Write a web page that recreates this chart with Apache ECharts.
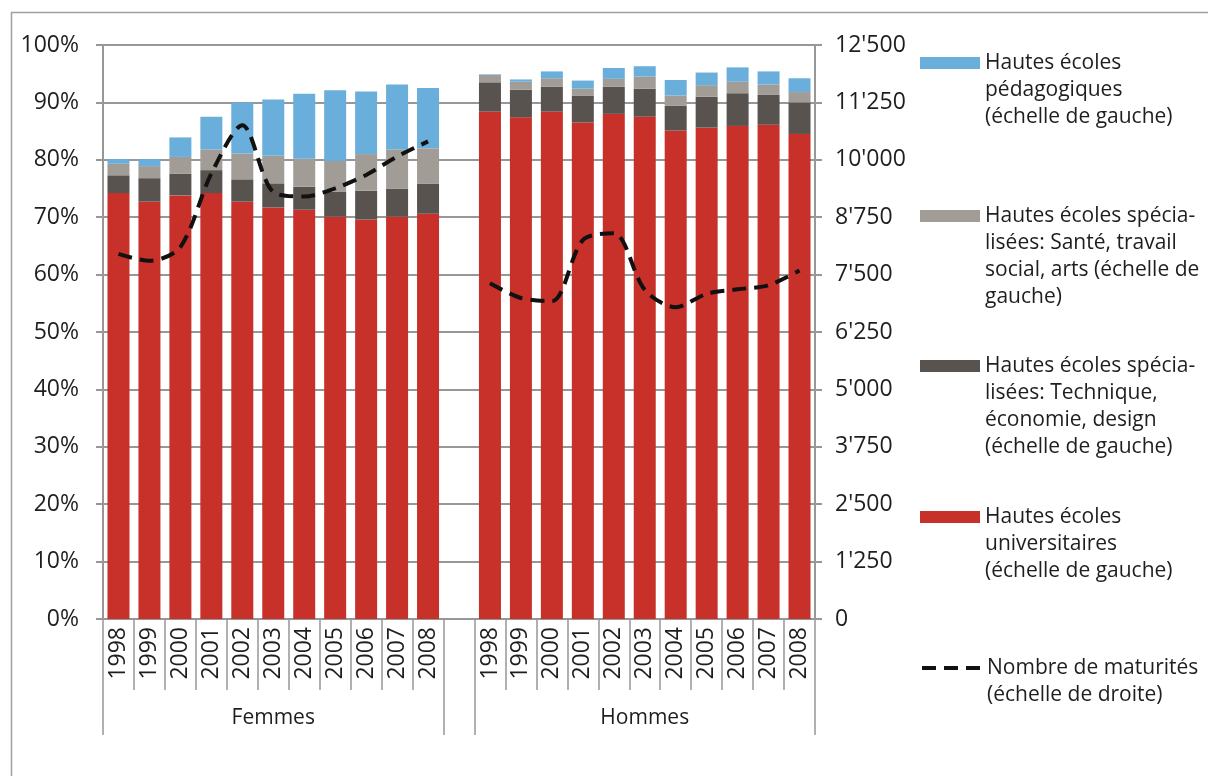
<!DOCTYPE html>
<html><head><meta charset="utf-8">
<script src="https://cdn.jsdelivr.net/npm/echarts@6/dist/echarts.min.js"></script>
<style>html,body{margin:0;padding:0;background:#fff}#c{width:1208px;height:776px}</style>
</head><body><div id="c"></div>
<script>
const years = ['1998','1999','2000','2001','2002','2003','2004','2005','2006','2007','2008'];
const groups = ['Femmes', 'Hommes'];

// Femmes (%)
const univF  = [74.2, 72.7, 73.8, 74.2, 72.7, 71.7, 71.3, 70.1, 69.6, 70.1, 70.6];
const techF  = [3.1, 4.1, 3.8, 4.0, 3.9, 4.2, 4.0, 4.3, 5.0, 4.9, 5.2];
const santeF = [2.0, 2.1, 2.9, 3.6, 4.5, 4.8, 4.9, 5.4, 6.4, 6.8, 6.2];
const pedaF  = [0.8, 1.2, 3.4, 5.7, 8.9, 9.8, 11.3, 12.3, 10.9, 11.3, 10.5];
// Hommes (%)
const univH  = [88.4, 87.4, 88.4, 86.5, 88.0, 87.5, 85.1, 85.6, 85.9, 86.1, 84.5];
const techH  = [5.1, 4.8, 4.3, 4.7, 4.7, 4.9, 4.3, 5.4, 5.7, 5.2, 5.5];
const santeH = [1.3, 1.4, 1.5, 1.2, 1.4, 2.1, 1.8, 2.0, 2.0, 1.8, 1.8];
const pedaH  = [0.1, 0.4, 1.2, 1.4, 1.9, 1.8, 2.7, 2.2, 2.5, 2.3, 2.4];
// Nombre de maturités
const matF = [7950, 7800, 8100, 9700, 10750, 9300, 9200, 9380, 9670, 10070, 10400];
const matH = [7310, 6990, 6920, 8250, 8400, 7170, 6790, 7080, 7180, 7270, 7590];

const leftTicks  = ['0%','10%','20%','30%','40%','50%','60%','70%','80%','90%','100%'];
const rightTicks = ['0',"1'250","2'500","3'750","5'000","6'250","7'500","8'750","10'000","11'250","12'500"];

const names = [
  'Hautes écoles\npédagogiques\n(échelle de gauche)',
  'Hautes écoles spécia-\nlisées: Santé, travail\nsocial, arts (échelle de\ngauche)',
  'Hautes écoles spécia-\nlisées: Technique,\néconomie, design\n(échelle de gauche)',
  'Hautes écoles\nuniversitaires\n(échelle de gauche)',
  'Nombre de maturités\n(échelle de droite)'
];
const colors = ['#6aaedb', '#a29c97', '#58534f', '#c8302a', '#111111'];

// 23 category slots: Femmes years, gap, Hommes years
const categories = years.concat([''], years);
const groupCats = categories.map(() => '');
groupCats[Math.floor(years.length / 2)] = groups[0];
groupCats[years.length + 1 + Math.floor(years.length / 2)] = groups[1];
const boundaries = [0, years.length, years.length + 1];
const join = (a, b) => a.concat([null], b);

const FONT = 'Open Sans';
const TXT = '#1e1e1e';
const GRID = '#979797';
const DASH = [14, 8];

function legendFor(i, centerY) {
  const n = names[i].split('\n').length;
  const lh = 27;
  const leg = {
    data: [names[i]],
    left: 920,
    top: centerY - (2 * n - 1) * lh / 2,
    padding: 0,
    itemWidth: 60,
    itemHeight: 12,
    selectedMode: false,
    formatter: (name) => '\n'.repeat(n - 1) + name,
    textStyle: {fontFamily: FONT, fontSize: 21, lineHeight: lh, color: TXT}
  };
  if (i < 4) leg.icon = 'rect';
  else {
    leg.itemStyle = {color: 'rgba(0,0,0,0)', borderColor: 'rgba(0,0,0,0)', borderWidth: 0};
    leg.lineStyle = {width: 4, type: DASH, color: colors[4]};
  }
  return leg;
}

const chart = echarts.init(document.getElementById('c'), null, {renderer: 'canvas'});
chart.setOption({
  animation: false,
  backgroundColor: '#fff',
  graphic: [{
    type: 'rect', left: 9, top: 10, shape: {width: 1400, height: 1000},
    style: {fill: 'none', stroke: '#a0a0a0', lineWidth: 1.5}, silent: true
  }],
  grid: {left: 103, right: 393, top: 45, bottom: 157, containLabel: false},
  legend: [
    legendFor(0, 63),
    legendFor(1, 216),
    legendFor(2, 366),
    legendFor(3, 517),
    legendFor(4, 668)
  ],
  xAxis: [{
    type: 'category', data: categories, position: 'bottom',
    axisLine: {show: true, lineStyle: {color: GRID, width: 2}},
    axisTick: {show: true, length: 71, interval: 0, lineStyle: {color: GRID, width: 1.5}},
    axisLabel: {interval: 0, rotate: 90, margin: 8, fontFamily: FONT, fontSize: 23, color: TXT},
    splitLine: {show: false}
  }, {
    type: 'category', data: groupCats, position: 'bottom', offset: 0,
    axisLine: {show: false},
    axisTick: {show: true, length: 116, interval: (idx) => boundaries.indexOf(idx) >= 0,
               lineStyle: {color: GRID, width: 1.5}},
    axisLabel: {interval: 0, margin: 89, fontFamily: FONT, fontSize: 21, color: TXT},
    splitLine: {show: false}
  }],
  yAxis: [{
    type: 'value', min: 0, max: 100, interval: 10, position: 'left',
    axisLine: {show: true, lineStyle: {color: GRID, width: 2}},
    axisTick: {show: true, length: 7, lineStyle: {color: GRID, width: 2}},
    axisLabel: {formatter: (v, i) => leftTicks[i], margin: 24, fontFamily: FONT, fontSize: 23, color: TXT},
    splitLine: {show: true, lineStyle: {color: GRID, width: 2}}
  }, {
    type: 'value', min: 0, max: 12500, interval: 1250, position: 'right',
    axisLine: {show: true, lineStyle: {color: GRID, width: 2}},
    axisTick: {show: true, length: 7, lineStyle: {color: GRID, width: 2}},
    axisLabel: {formatter: (v, i) => rightTicks[i], margin: 20, fontFamily: FONT, fontSize: 23, color: TXT},
    splitLine: {show: false}
  }],
  series: [
    {name: names[3], type: 'bar', stack: 'p', barWidth: 22, data: join(univF, univH), itemStyle: {color: colors[3]}},
    {name: names[2], type: 'bar', stack: 'p', barWidth: 22, data: join(techF, techH), itemStyle: {color: colors[2]}},
    {name: names[1], type: 'bar', stack: 'p', barWidth: 22, data: join(santeF, santeH), itemStyle: {color: colors[1]}},
    {name: names[0], type: 'bar', stack: 'p', barWidth: 22, data: join(pedaF, pedaH), itemStyle: {color: colors[0]}},
    {name: names[4], type: 'line', yAxisIndex: 1, data: join(matF, matH), smooth: 0.3,
     symbol: 'none', showSymbol: false, connectNulls: false, z: 5,
     lineStyle: {color: colors[4], width: 4, type: DASH}, itemStyle: {color: colors[4]}}
  ]
});
</script></body></html>
